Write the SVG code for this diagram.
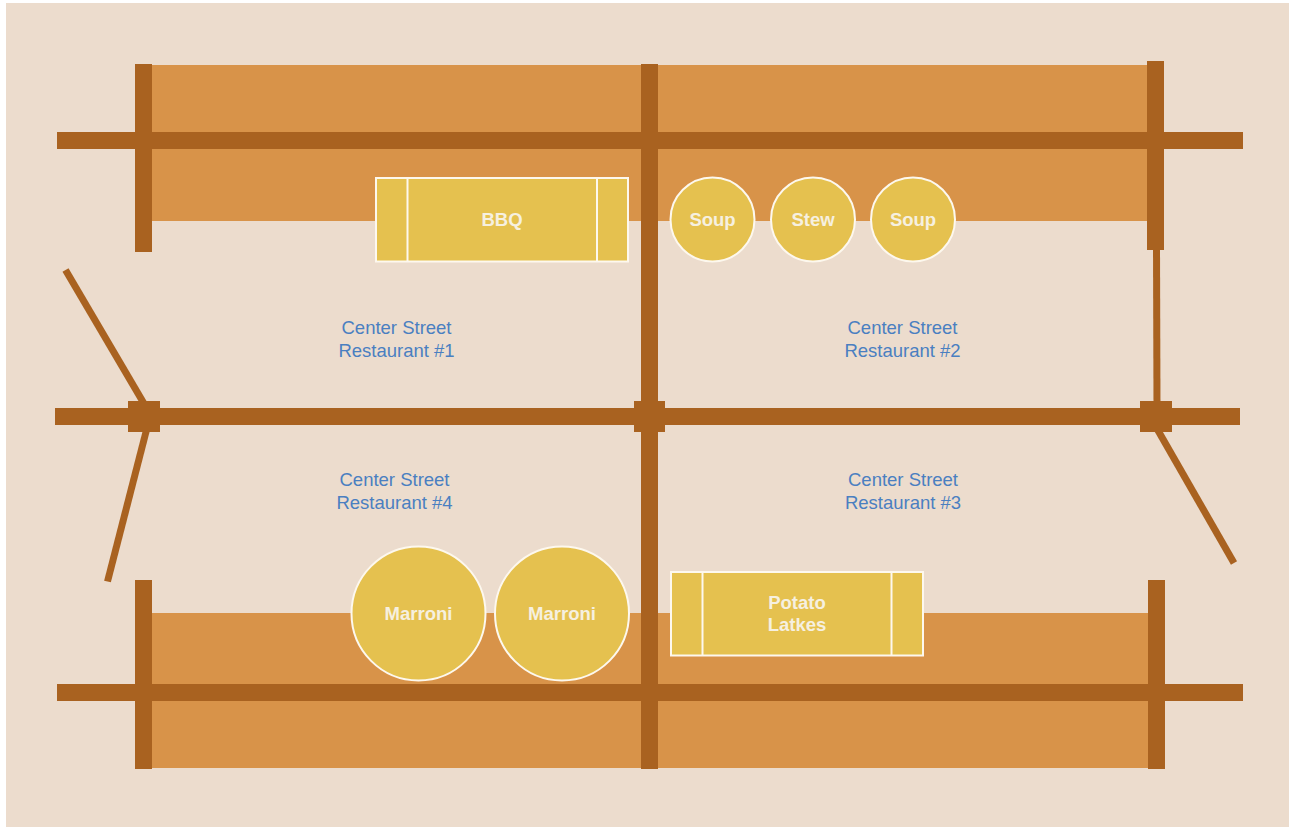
<svg xmlns="http://www.w3.org/2000/svg" width="1293" height="827" viewBox="0 0 1293 827">
<style>
.road{fill:#a96220}
.lot{fill:#d89349}
.st{stroke:#a96220;stroke-width:7;fill:none}
.f{fill:#e5c14f;stroke:#fdf8ee;stroke-width:2}
.d{stroke:#fdf8ee;stroke-width:2;fill:none}
text{font-family:"Liberation Sans",Arial,sans-serif;font-size:18.5px;text-anchor:middle}
.w{fill:#f6f0e0;font-weight:700}
.b{fill:#4a7fc1}
</style>
<rect x="0" y="0" width="1293" height="827" fill="#ffffff"/>
<rect x="6" y="3" width="1283" height="824" fill="#ecdccd"/>
<g id="lots">
<rect class="lot" x="152" y="65" width="996" height="156"/>
<rect class="lot" x="152" y="613" width="996" height="155"/>
</g>
<g id="connectors">
<line class="st" x1="65.500" y1="270" x2="146" y2="407"/>
<line class="st" x1="147" y1="428" x2="107.500" y2="581.500"/>
<line class="st" x1="1156.500" y1="247" x2="1157" y2="405"/>
<line class="st" x1="1156" y1="427" x2="1234" y2="563"/>
<rect class="road" x="57" y="132" width="1186" height="17"/>
<rect class="road" x="55" y="408" width="1185" height="17"/>
<rect class="road" x="57" y="684" width="1186" height="17"/>
<rect class="road" x="135" y="64" width="17" height="188"/>
<rect class="road" x="641" y="64" width="17" height="705"/>
<rect class="road" x="1147" y="61" width="17" height="189"/>
<rect class="road" x="135" y="580" width="17" height="189"/>
<rect class="road" x="1148" y="580" width="17" height="189"/>
<rect class="road" x="128" y="401" width="32" height="31"/>
<rect class="road" x="634" y="401" width="31" height="31"/>
<rect class="road" x="1140" y="401" width="32" height="31"/>
</g>
<g id="bbq">
<rect class="f" x="376" y="178" width="252" height="83.500"/>
<path class="d" d="M407.500 178V261.500M597 178V261.500"/>
<text class="w" x="502" y="226">BBQ</text>
</g>
<g id="soup1"><circle class="f" cx="712.500" cy="219.500" r="42"/><text class="w" x="712.500" y="226">Soup</text></g>
<g id="stew"><circle class="f" cx="813" cy="219.500" r="42"/><text class="w" x="813" y="226">Stew</text></g>
<g id="soup2"><circle class="f" cx="913" cy="219.500" r="42"/><text class="w" x="913" y="226">Soup</text></g>
<g id="marroni1"><circle class="f" cx="418.500" cy="613.500" r="67"/><text class="w" x="418.500" y="620">Marroni</text></g>
<g id="marroni2"><circle class="f" cx="562" cy="613.500" r="67"/><text class="w" x="562" y="620">Marroni</text></g>
<g id="latkes">
<rect class="f" x="671" y="572" width="252" height="83.500"/>
<path class="d" d="M702.500 572V655.500M891.500 572V655.500"/>
<text class="w" x="797" y="609">Potato</text>
<text class="w" x="797" y="631">Latkes</text>
</g>
<g id="r1"><text class="b" x="396.500" y="334">Center Street</text><text class="b" x="396.500" y="357">Restaurant #1</text></g>
<g id="r2"><text class="b" x="902.500" y="334">Center Street</text><text class="b" x="902.500" y="357">Restaurant #2</text></g>
<g id="r3"><text class="b" x="903" y="486">Center Street</text><text class="b" x="903" y="509">Restaurant #3</text></g>
<g id="r4"><text class="b" x="394.500" y="486">Center Street</text><text class="b" x="394.500" y="509">Restaurant #4</text></g>
</svg>
